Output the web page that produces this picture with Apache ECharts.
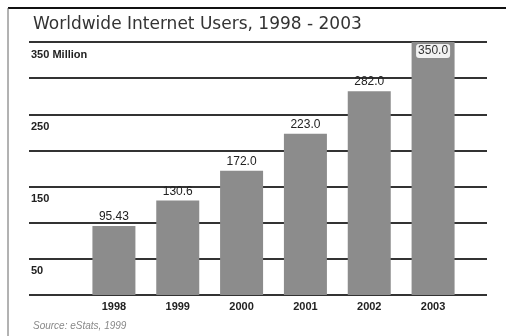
<!DOCTYPE html>
<html>
<head>
<meta charset="utf-8">
<script src="https://cdn.jsdelivr.net/npm/echarts@6/dist/echarts.min.js"></script>
<style>html,body{margin:0;padding:0;background:#fff}#c{width:508px;height:336px}</style>
</head>
<body>
<div id="c"></div>
<script>
const categories = ['1998', '1999', '2000', '2001', '2002', '2003'];
const users = [95.43, 130.6, 172.0, 223.0, 282.0, 350.0];
const valueLabels = ['95.43', '130.6', '172.0', '223.0', '282.0', '350.0'];
const yTickLabels = {50: '50', 150: '150', 250: '250', 350: '350 Million'};

const chart = echarts.init(document.getElementById('c'));
const barData = users.map((v, i) => {
  const item = {value: v};
  if (i === users.length - 1) {
    item.label = {position: 'insideTop', distance: 2, backgroundColor: '#f2f2f2', borderRadius: 3, padding: [1, 2], color: '#333'};
  }
  return item;
});
chart.setOption({
  animation: false,
  title: [
    {text: 'Worldwide Internet Users, 1998 - 2003', left: 28, top: 11,
     textStyle: {fontFamily: 'DejaVu Sans', fontSize: 17, fontWeight: 'normal', color: '#333'}},
    {text: 'Source: eStats, 1999', left: 28, top: 316,
     textStyle: {fontFamily: 'Liberation Sans', fontSize: 10, fontStyle: 'italic', fontWeight: 'normal', color: '#888'}}
  ],
  graphic: [
    {type: 'line', shape: {x1: 8, y1: 8, x2: 506, y2: 8}, style: {stroke: '#111', lineWidth: 2}},
    {type: 'line', shape: {x1: 8, y1: 8, x2: 8, y2: 336}, style: {stroke: '#666', lineWidth: 1}}
  ],
  grid: [
    {left: 29, right: 21, top: 42, bottom: 41},
    {left: 82, right: 43, top: 42, bottom: 41}
  ],
  xAxis: [
    {type: 'value', gridIndex: 0, show: false, min: 0, max: 1},
    {type: 'category', gridIndex: 1, data: categories,
     axisLine: {show: false}, axisTick: {show: false},
     axisLabel: {margin: 6, fontFamily: 'Liberation Sans', fontSize: 11, fontWeight: 'bold', color: '#222'}}
  ],
  yAxis: [
    {type: 'value', gridIndex: 0, min: 0, max: 350, interval: 50,
     axisLine: {show: false}, axisTick: {show: false},
     splitLine: {show: true, lineStyle: {color: '#333', width: 2}},
     axisLabel: {inside: true, margin: 2, verticalAlign: 'top', padding: [7, 0, 0, 0],
       fontFamily: 'Liberation Sans', fontSize: 11, fontWeight: 'bold', color: '#222',
       formatter: v => yTickLabels[v] || ''}},
    {type: 'value', gridIndex: 1, min: 0, max: 350, interval: 50, show: false}
  ],
  series: [{
    type: 'bar', xAxisIndex: 1, yAxisIndex: 1, data: barData, barWidth: 43,
    itemStyle: {color: '#8c8c8c'},
    label: {show: true, position: 'top', distance: 3, fontFamily: 'Liberation Sans', fontSize: 12, color: '#222',
      formatter: p => valueLabels[p.dataIndex]}
  }]
});
</script>
</body>
</html>
